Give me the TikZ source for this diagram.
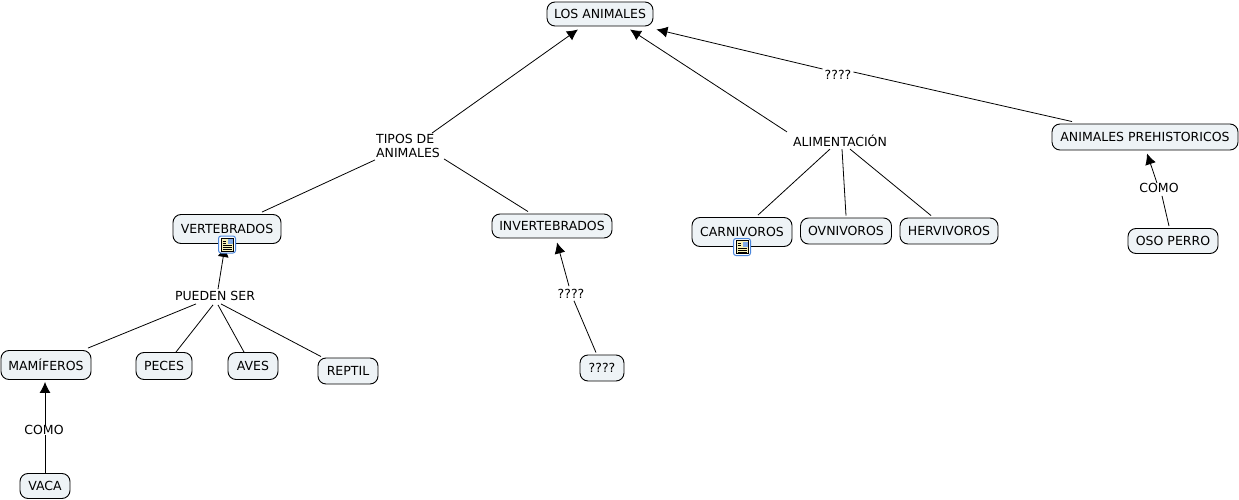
\documentclass[tikz,border=0pt]{standalone}
\usepackage{fontspec}
\setmainfont{DejaVu Sans}
\usetikzlibrary{arrows.meta}

\definecolor{boxfill}{HTML}{EEF3F6}
\definecolor{iconblue}{HTML}{4A86DC}
\definecolor{iconpaper}{HTML}{F8F2B8}

\tikzset{
  concept/.style={draw=black,line width=0.9pt,fill=boxfill,rounded corners=8pt,inner sep=0pt,font=\fontsize{12.5}{14}\selectfont},
  linklabel/.style={inner sep=0pt,font=\fontsize{12.5}{14}\selectfont,align=left},
  link/.style={draw=black,line width=0.8pt},
  docicon/.pic={
    \draw[iconblue,fill=white,rounded corners=2.5pt,line width=1pt] (-8.5,-8.5) rectangle (8.5,8.5);
    \fill[iconpaper,draw=black,line width=0.6pt] (-6,-6.5) rectangle (6,6.5);
    \fill[iconblue!70] (0.5,-5.5) rectangle (5.5,-0.5);
    \foreach \yy in {1,3,5} {\draw[black,line width=0.7pt] (-4.5,\yy) -- (4.5,\yy);}
    \draw[black,line width=0.7pt] (-4.5,-1.5) -- (-1,-1.5);
    \draw[black,line width=0.7pt] (-4.5,-3.5) -- (-1,-3.5);
  }
}

\begin{document}
\begin{tikzpicture}[x=1pt,y=-1pt,>={Latex[length=11pt,width=11pt]}]

    \useasboundingbox (0,0) rectangle (1239,500);

    % Concepts
    \node[concept,minimum width=106pt,minimum height=24pt] (los) at (600,14) {LOS ANIMALES};
    \node[concept,minimum width=108pt,minimum height=29pt] (vertebrados) at (227,229) {VERTEBRADOS};
    \node[concept,minimum width=120pt,minimum height=24pt] (invertebrados) at (552,226) {INVERTEBRADOS};
    \node[concept,minimum width=100pt,minimum height=29pt] (carnivoros) at (742,232) {CARNIVOROS};
    \node[concept,minimum width=91pt,minimum height=26pt] (ovnivoros) at (846,231) {OVNIVOROS};
    \node[concept,minimum width=98pt,minimum height=26pt] (hervivoros) at (949,231) {HERVIVOROS};
    \node[concept,minimum width=186pt,minimum height=26pt] (prehistoricos) at (1145,137) {ANIMALES PREHISTORICOS};
    \node[concept,minimum width=90pt,minimum height=25pt] (oso) at (1173,241) {OSO PERRO};
    \node[concept,minimum width=90pt,minimum height=29pt] (mamiferos) at (46,365) {MAMÍFEROS};
    \node[concept,minimum width=56pt,minimum height=27pt] (peces) at (164,366) {PECES};
    \node[concept,minimum width=50pt,minimum height=27pt] (aves) at (253,366) {AVES};
    \node[concept,minimum width=60pt,minimum height=26pt] (reptil) at (348,371) {REPTIL};
    \node[concept,minimum width=44pt,minimum height=26pt] (dudas) at (602,368) {????};
    \node[concept,minimum width=50pt,minimum height=25pt] (vaca) at (45,486) {VACA};

    % Link labels
    \node[linklabel] (tipos) at (408,146) {TIPOS DE\\ANIMALES};
    \node[linklabel] (alimentacion) at (840,141) {ALIMENTACIÓN};
    \node[linklabel] (preguntaA) at (838,75) {????};
    \node[linklabel] (comoA) at (1159,188) {COMO};
    \node[linklabel] (pueden) at (215,296) {PUEDEN SER};
    \node[linklabel] (preguntaB) at (571,294) {????};
    \node[linklabel] (comoB) at (44,430) {COMO};

    % Links to LOS ANIMALES
    \draw[link,->] ([shift={(24,-1)}]tipos.north) -- ([shift={(-22,3)}]los.south);
    \draw[link,->] ([shift={(-53,-3)}]alimentacion.north) -- ([shift={(30,3)}]los.south);
    \draw[link] ([shift={(-73,-2)}]prehistoricos.north) -- ([shift={(2,-3)}]preguntaA.east);
    \draw[link,->] ([shift={(-2,-6)}]preguntaA.west) -- ([shift={(3,3)}]los.south east);

    % Tipos
    \draw[link] ([shift={(-33,2)}]tipos.south) -- ([shift={(35,-2)}]vertebrados.north);
    \draw[link] ([shift={(36,1)}]tipos.south) -- ([shift={(-24,-2)}]invertebrados.north);

    % Alimentacion
    \draw[link] ([shift={(-10,2)}]alimentacion.south) -- ([shift={(16,-2)}]carnivoros.north);
    \draw[link] ([shift={(2,2)}]alimentacion.south) -- ([shift={(0,-2)}]ovnivoros.north);
    \draw[link] ([shift={(10,2)}]alimentacion.south) -- ([shift={(-18,-2)}]hervivoros.north);

    % Prehistoricos
    \draw[link] ([shift={(-4,-2)}]oso.north) -- ([shift={(3,3)}]comoA.south);
    \draw[link,->] ([shift={(-2,0)}]comoA.north) -- ([shift={(2,3)}]prehistoricos.south);

    % Vertebrados
    \draw[link,->] ([shift={(3,-2)}]pueden.north) -- ([shift={(-2,2)}]vertebrados.south);
    \draw[link] ([shift={(-19,3)}]pueden.south) -- ([shift={(42,-2)}]mamiferos.north);
    \draw[link] ([shift={(-2,4)}]pueden.south) -- ([shift={(12,0)}]peces.north);
    \draw[link] ([shift={(3,4)}]pueden.south) -- ([shift={(-9,0)}]aves.north);
    \draw[link] ([shift={(6,3)}]pueden.south) -- ([shift={(-27,-1)}]reptil.north);

    % Invertebrados
    \draw[link] ([shift={(-6,-2)}]dudas.north) -- ([shift={(3,2)}]preguntaB.south);
    \draw[link,->] ([shift={(-2,-3)}]preguntaB.north) -- ([shift={(5,4)}]invertebrados.south);

    % Mamiferos
    \draw[link] (vaca.north) -- (comoB.south -| vaca.north);
    \draw[link,->] (comoB.north -| vaca.north) -- ([yshift=-2pt]mamiferos.south -| vaca.north);

    % Icons
    \pic at (227,244.5) {docicon};
    \pic at (742,247) {docicon};

\end{tikzpicture}
\end{document}
